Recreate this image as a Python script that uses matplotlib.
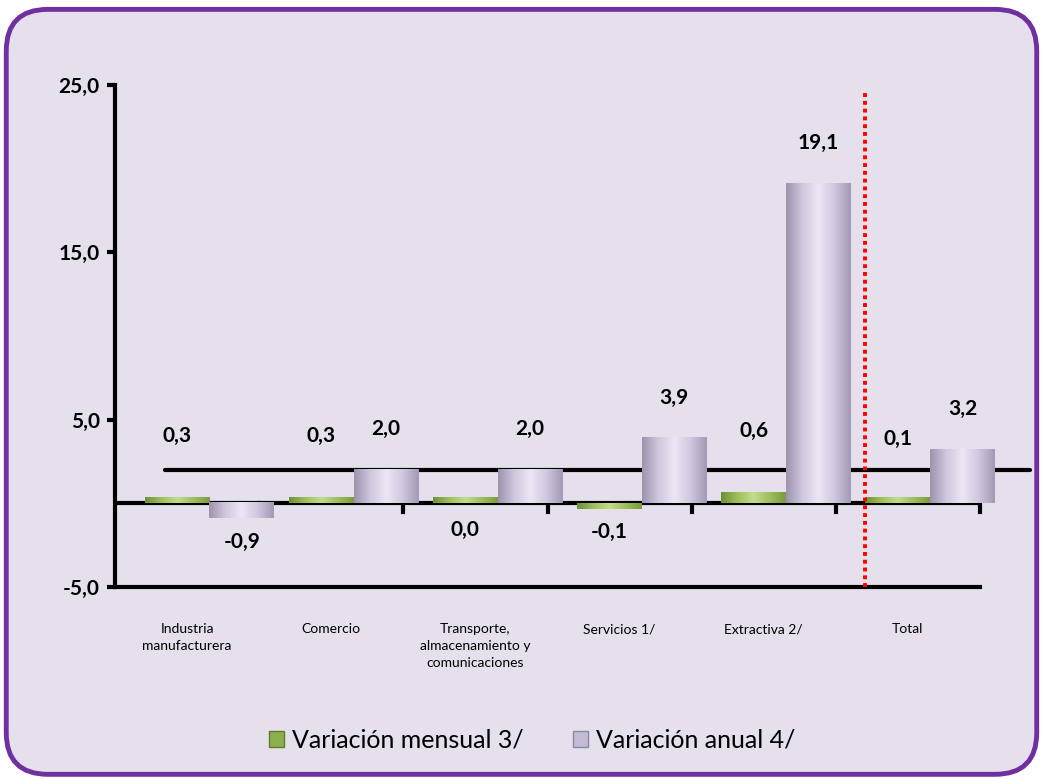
import numpy as np
import matplotlib
matplotlib.use("Agg")
import matplotlib.pyplot as plt
from matplotlib.patches import FancyBboxPatch, Patch
from matplotlib.colors import LinearSegmentedColormap

categories = ["Industria\nmanufacturera", "Comercio",
              "Transporte,\nalmacenamiento y\ncomunicaciones",
              "Servicios 1/", "Extractiva 2/", "Total"]
mensual = [0.3, 0.3, 0.0, -0.1, 0.6, 0.1]
anual = [-0.9, 2.0, 2.0, 3.9, 19.1, 3.2]
mensual_labels = ["0,3", "0,3", "0,0", "-0,1", "0,6", "0,1"]
anual_labels = ["-0,9", "2,0", "2,0", "3,9", "19,1", "3,2"]
yticks = [-5, 5, 15, 25]
ytick_labels = ["-5,0", "5,0", "15,0", "25,0"]
series_names = ["Variación mensual 3/", "Variación anual 4/"]

plt.rcParams['font.family'] = ['Lato', 'DejaVu Sans']

W, H, DPI = 1043, 779, 100
fig = plt.figure(figsize=(W / DPI, H / DPI), dpi=DPI)
fig.patch.set_facecolor("white")

bg = FancyBboxPatch((0.006, 0.006), 0.988, 0.982,
                    boxstyle="round,pad=0,rounding_size=0.04",
                    transform=fig.transFigure, facecolor="#E5E0EC",
                    edgecolor="#7030A0", linewidth=3.5, zorder=-10,
                    mutation_aspect=W / H)
fig.patches.append(bg)

ax = fig.add_axes([115 / W, 1 - 587 / H, 865 / W, (587 - 85) / H])
ax.set_zorder(1)
ax.set_facecolor("none")

x = np.arange(len(categories))
bw = 0.45
green_x = x - 0.07
anual_x = x + 0.38

green_cmap = LinearSegmentedColormap.from_list(
    "g", ["#6E8E36", "#9DBF5C", "#C2DC8E", "#9DBF5C", "#7A9A40"])
purple_cmap = LinearSegmentedColormap.from_list(
    "p", ["#9C94AE", "#CFC7DE", "#ECE6F5", "#CFC7DE", "#A29AB4"])

def shaded(bars, cmap):
    grad = np.linspace(0, 1, 256).reshape(1, -1)
    for b in bars:
        x0, y0 = b.get_x(), b.get_y()
        w, h = b.get_width(), b.get_height()
        h_eff = h if abs(h) > 0.35 else (0.35 if h >= 0 else -0.35)
        b.set_height(h_eff)
        if h_eff >= 0:
            ext = (x0, x0 + w, y0, y0 + h_eff)
        else:
            ext = (x0, x0 + w, y0 + h_eff, y0)
        im = ax.imshow(grad, cmap=cmap, aspect="auto", extent=ext,
                       zorder=b.get_zorder(), interpolation="bicubic",
                       clip_on=False)
        im.set_clip_path(b)
        b.set_facecolor("none")

gbars = ax.bar(green_x, mensual, bw, color="#9DBF5C", zorder=4,
               linewidth=0)
pbars = ax.bar(anual_x, anual, bw, color="#CFC7DE", zorder=5,
               linewidth=0)
shaded(gbars, green_cmap)
shaded(pbars, purple_cmap)
ax.set_xlim(-0.5, 5.5)
ax.set_ylim(-5, 25)
for b in list(gbars) + list(pbars):
    b.set_clip_on(False)

# floor back line (3D look)
ax.plot([0.058, 1.058], [0.233, 0.233], transform=ax.transAxes,
        color="black", lw=3, zorder=2, clip_on=False,
        solid_capstyle="round")

# zero line with category tick marks
ax.axhline(0, color="black", lw=3, zorder=3)
for b in np.arange(0.5, 5.6, 1.0):
    ax.plot([b, b], [0, -0.5], color="black", lw=3, zorder=3,
            clip_on=False)

# red dotted separator
ax.plot([4.70, 4.70], [-5, 24.7], color="#FF0000", lw=2.8,
        linestyle=(0, (1, 1)), zorder=6, clip_on=False)

for sp in ["top", "right"]:
    ax.spines[sp].set_visible(False)
for sp in ["left", "bottom"]:
    ax.spines[sp].set_linewidth(3)
    ax.spines[sp].set_color("black")

ax.set_yticks(yticks)
ax.set_yticklabels(ytick_labels, fontsize=15, fontweight="bold")
ax.tick_params(axis="y", length=6, width=3, pad=5)
ax.set_xticks(x)
ax.set_xticklabels(categories, fontsize=10, linespacing=1.5)
ax.tick_params(axis="x", length=0, pad=26)

for xi, v, lab in zip(green_x, mensual, mensual_labels):
    if v > 0:
        ax.annotate(lab, (xi, v), xytext=(0, 38), textcoords="offset points",
                    ha="center", va="bottom", fontsize=15, fontweight="bold",
                    zorder=7)
    else:
        ax.annotate(lab, (xi, min(v, 0)), xytext=(0, -12),
                    textcoords="offset points", ha="center", va="top",
                    fontsize=15, fontweight="bold", zorder=7)
for xi, v, lab in zip(anual_x, anual, anual_labels):
    if v > 0:
        ax.annotate(lab, (xi, v), xytext=(0, 22), textcoords="offset points",
                    ha="center", va="bottom", fontsize=15, fontweight="bold",
                    zorder=7)
    else:
        ax.annotate(lab, (xi, v), xytext=(0, -10),
                    textcoords="offset points", ha="center", va="top",
                    fontsize=15, fontweight="bold", zorder=7)

handles = [Patch(facecolor="#8DB04C", edgecolor="#5E7C2A"),
           Patch(facecolor="#C4BCD4", edgecolor="#8E86A0")]
fig.legend(handles, series_names, loc="center", bbox_to_anchor=(532 / W, 1 - 740 / H),
           ncol=2, frameon=False, fontsize=18, handlelength=0.6,
           handleheight=0.6, handletextpad=0.3, columnspacing=2.0)

fig.savefig("out.png", dpi=DPI, facecolor=fig.get_facecolor())
